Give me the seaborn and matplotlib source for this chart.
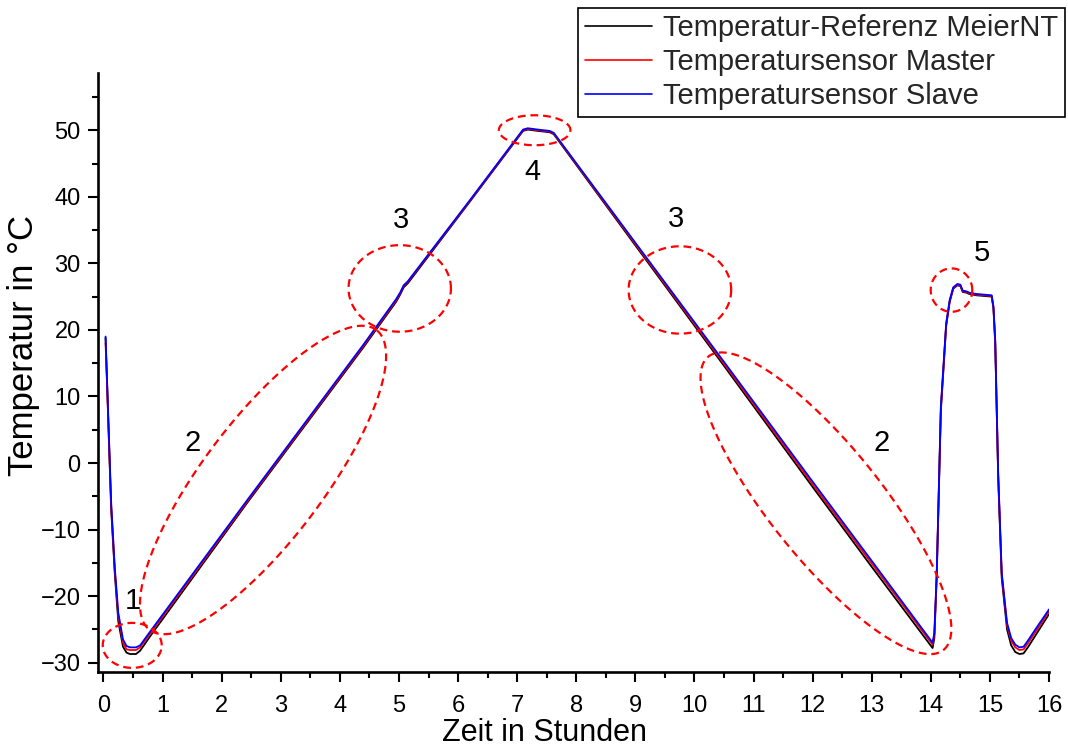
import numpy as np
import pandas as pd
import matplotlib
matplotlib.use("Agg")
import matplotlib.pyplot as plt
from matplotlib.ticker import MultipleLocator
import seaborn as sns

# ---------------- data ----------------
time_h = [0.035, 0.06, 0.09, 0.13, 0.19, 0.25, 0.33, 0.39, 0.45, 0.55, 0.62, 0.80,
          2.43, 4.40, 4.95, 5.02, 5.08, 5.15, 6.21, 7.10, 7.18, 7.35, 7.55, 7.62,
          9.0, 10.5, 12.0, 13.0, 14.03, 14.06, 14.10, 14.17, 14.26, 14.32, 14.38,
          14.45, 14.50, 14.54, 14.60, 14.65, 14.77, 15.03, 15.06, 15.09, 15.14,
          15.20, 15.29, 15.36, 15.43, 15.50, 15.57, 15.65, 15.80, 16.0]

slave = [19.0, 12.5, 4.5, -6.0, -15.6, -22.5, -26.5, -27.5, -27.7, -27.7, -27.4, -25.2,
         -5.6, 17.8, 24.6, 25.6, 26.7, 27.3, 39.6, 50.1, 50.3, 50.1, 49.9, 49.6,
         33.1, 15.2, -2.8, -14.7, -27.0, -25.5, -16.5, 8.5, 21.0, 24.5, 26.4,
         26.9, 26.8, 25.9, 25.8, 25.6, 25.4, 25.2, 23.5, 18.5, -1.5,
         -16.5, -24.0, -26.3, -27.3, -27.7, -27.6, -26.6, -24.6, -22.0]

master = [18.0, 12.0, 4.0, -6.5, -16.0, -23.0, -27.0, -28.0, -28.1, -28.1, -27.7, -25.5,
          -5.8, 17.6, 24.4, 25.5, 26.6, 27.2, 39.5, 50.0, 50.2, 50.0, 49.8, 49.5,
          32.9, 14.9, -3.2, -15.1, -27.3, -25.8, -16.8, 8.2, 20.8, 24.4, 26.3,
          26.8, 26.7, 25.8, 25.7, 25.5, 25.3, 25.1, 23.4, 18.2, -1.8,
          -16.8, -24.4, -26.7, -27.7, -28.1, -28.0, -27.0, -25.0, -22.3]

reference = [18.8, 12.0, 3.8, -7.0, -16.5, -23.8, -27.6, -28.5, -28.7, -28.7, -28.2, -25.9,
             -6.0, 17.4, 24.2, 25.3, 26.4, 27.0, 39.4, 49.9, 50.1, 49.9, 49.7, 49.4,
             32.7, 14.6, -3.6, -15.6, -27.8, -26.3, -17.2, 7.8, 20.6, 24.2, 26.2,
             26.7, 26.6, 25.7, 25.6, 25.4, 25.2, 25.0, 23.2, 17.9, -2.2,
             -17.3, -25.0, -27.4, -28.4, -28.7, -28.6, -27.6, -25.5, -22.7]

series_names = ["Temperatur-Referenz MeierNT", "Temperatursensor Master", "Temperatursensor Slave"]
series_colors = ["#000000", "#ff0000", "#0000ff"]

x_ticks = list(range(0, 17))
y_ticks = [-30, -20, -10, 0, 10, 20, 30, 40, 50]

# annotation labels (text, t, T)
ann_labels = ["1", "2", "3", "4", "3", "2", "5"]
ann_t = [0.50, 1.51, 5.03, 7.26, 9.69, 13.17, 14.86]
ann_T = [-20.8, 2.95, 36.5, 43.7, 36.6, 2.95, 31.5]

# ---------------- build frame ----------------
df = pd.DataFrame({
    "t": time_h * 3,
    "T": reference + master + slave,
    "Serie": [series_names[0]] * len(time_h) + [series_names[1]] * len(time_h)
             + [series_names[2]] * len(time_h),
})

sns.set_theme(style="ticks")
plt.rcParams["font.family"] = ["Liberation Sans", "DejaVu Sans"]

W, H = 1068, 749
fig = plt.figure(figsize=(W / 100, H / 100), dpi=100)
ax_l, ax_r, ax_b, ax_t = 98, 1049, 672, 73
ax = fig.add_axes([ax_l / W, 1 - ax_b / H, (ax_r - ax_l) / W, (ax_b - ax_t) / H])

sns.lineplot(data=df, x="t", y="T", hue="Serie", palette=series_colors,
             hue_order=series_names, linewidth=1.3, ax=ax, sort=False,
             estimator=None, legend=True)

xmin, xmax = -0.093, 16.0
ymin, ymax = -31.4, 58.6
ax.set_xlim(xmin, xmax)
ax.set_ylim(ymin, ymax)
ax.set_xticks(x_ticks)
ax.set_yticks(y_ticks)
ax.xaxis.set_minor_locator(MultipleLocator(0.5))
ax.yaxis.set_minor_locator(MultipleLocator(5))

for s in ["top", "right"]:
    ax.spines[s].set_visible(False)
for s in ["left", "bottom"]:
    ax.spines[s].set_linewidth(1.9)
    ax.spines[s].set_color("black")

ax.tick_params(which="major", direction="out", length=7.5, width=1.5, color="black",
               labelsize=17, labelcolor="black", pad=5)
ax.tick_params(which="minor", direction="out", length=4.5, width=1.5, color="black")
ax.tick_params(axis="x", which="major", pad=9)

ax_wpx = ax_r - ax_l
ax_hpx = ax_b - ax_t
ax.set_xlabel("Zeit in Stunden", fontsize=22, color="black")
ax.xaxis.label.set_va("baseline")
ax.xaxis.set_label_coords((545 - ax_l) / ax_wpx, (ax_b - 741) / ax_hpx)
ax.set_ylabel("Temperatur in °C", fontsize=25, color="black")
ax.yaxis.label.set_va("center")
ax.yaxis.set_label_coords((24 - ax_l) / ax_wpx, (ax_b - 345) / ax_hpx)
ax.grid(False)

# ---------------- red dashed annotation ellipses (pixel based) ----------------
sx = ax_wpx / (xmax - xmin)
sy = ax_hpx / (ymax - ymin)
# (center t, center T, half axis a px, half axis b px, angle deg)
ellipses = [
    (0.486, -27.4, 29.5, 22.5, 0),
    (2.70, -2.55, 188, 60, 52.9),
    (5.013, 26.23, 51.2, 43.3, 0),
    (7.296, 50.0, 35.8, 15.0, 0),
    (9.754, 26.0, 51.3, 43.7, 0),
    (12.225, -6.05, 188, 56, -51.3),
    (14.35, 25.98, 20.8, 21.7, 0),
]
phi = np.linspace(0, 2 * np.pi, 400)
for (tc, Tc, a, b, ang) in ellipses:
    th = np.deg2rad(ang)
    px = a * np.cos(phi) * np.cos(th) - b * np.sin(phi) * np.sin(th)
    py = a * np.cos(phi) * np.sin(th) + b * np.sin(phi) * np.cos(th)
    ax.plot(tc + px / sx, Tc + py / sy, color="#ff0000", lw=1.6,
            linestyle=(0, (3.5, 2.2)), clip_on=False, zorder=5)

for lab, t, T in zip(ann_labels, ann_t, ann_T):
    ax.text(t, T, lab, fontsize=21, ha="center", va="center", color="black")

# ---------------- legend ----------------
handles, labels = ax.get_legend_handles_labels()
if ax.legend_ is not None:
    ax.legend_.remove()
leg = fig.legend(handles, labels, loc="upper right",
                 bbox_to_anchor=(1065 / W, 1 - 8 / H), bbox_transform=fig.transFigure,
                 fontsize=21, frameon=True, fancybox=False, framealpha=1,
                 edgecolor="black", handlelength=2.3, handletextpad=0.4,
                 labelspacing=0.2, borderpad=0.22, borderaxespad=0)
leg.get_frame().set_linewidth(1.2)
for lh in leg.get_lines():
    lh.set_linewidth(1.2)

fig.savefig("out.png", dpi=100, facecolor="white")
